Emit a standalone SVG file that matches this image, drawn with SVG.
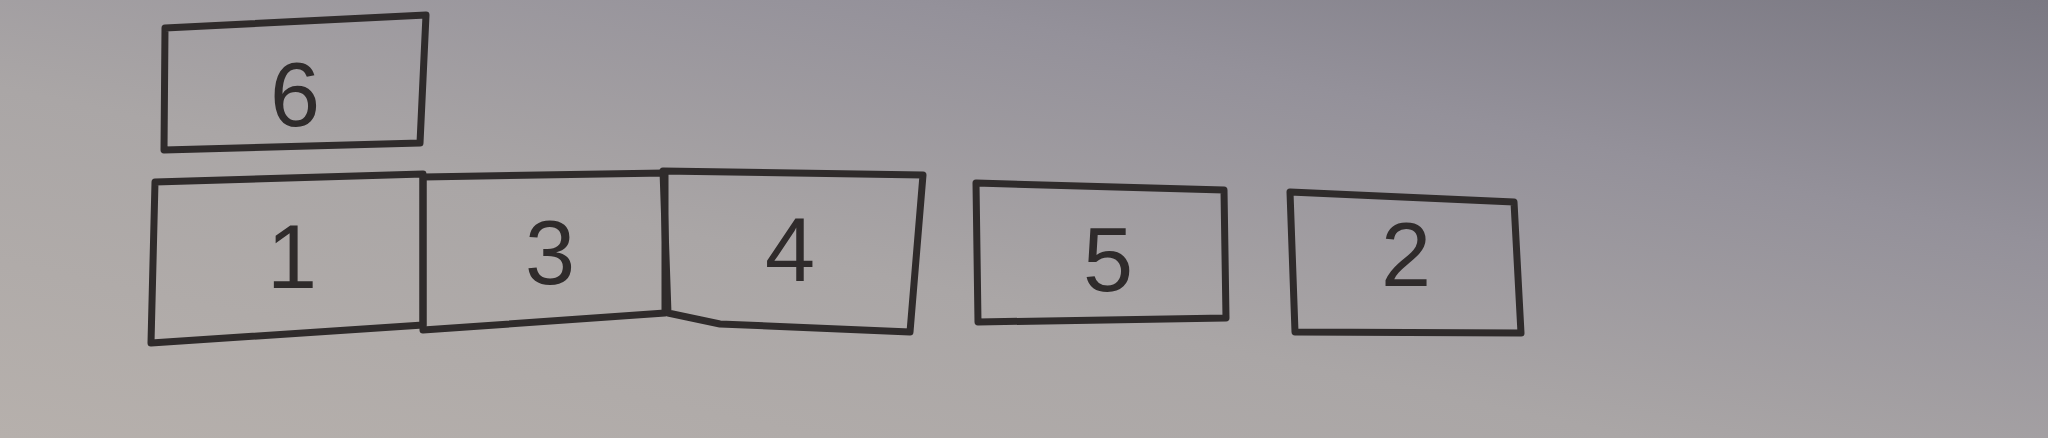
<svg xmlns="http://www.w3.org/2000/svg" width="2048" height="438" viewBox="0 0 2048 438">
<defs>
<linearGradient id="bg" x1="0" y1="1" x2="1" y2="0">
<stop offset="0" stop-color="#b6b0ac"/>
<stop offset="0.4" stop-color="#aaa6a6"/>
<stop offset="0.72" stop-color="#94919a"/>
<stop offset="1" stop-color="#7a7882"/>
</linearGradient>
<style>
.box{fill:none;stroke:#2f2b2b;stroke-width:7;stroke-linejoin:round;stroke-linecap:round}
.lbl{font-family:"Liberation Sans",Arial,sans-serif;font-size:90px;fill:#2f2b2b;text-anchor:middle}
</style>
</defs>
<rect width="2048" height="438" fill="url(#bg)"/>
<g id="node6">
<path class="box" d="M165,28 L426,15 L420,143 L164,150 Z"/>
<text class="lbl" x="295" y="126">6</text>
</g>
<g id="node1">
<path class="box" d="M155,182 L423,174 L423,325 L151,343 Z"/>
<text class="lbl" x="292" y="288">1</text>
</g>
<g id="node3">
<path class="box" d="M423,177 L665,173 L665,313 L423,330 Z"/>
<text class="lbl" x="550" y="284">3</text>
</g>
<g id="node4">
<path class="box" d="M663,171 L923,175 L910,332 L720,324 L668,313 Z"/>
<text class="lbl" x="790" y="281">4</text>
</g>
<g id="node5">
<path class="box" d="M976,183 L1224,190 L1226,318 L978,322 Z"/>
<text class="lbl" x="1108" y="291">5</text>
</g>
<g id="node2">
<path class="box" d="M1290,192 L1514,202 L1521,333 L1295,332 Z"/>
<text class="lbl" x="1406" y="286">2</text>
</g>
<g id="connectors"></g>
</svg>
